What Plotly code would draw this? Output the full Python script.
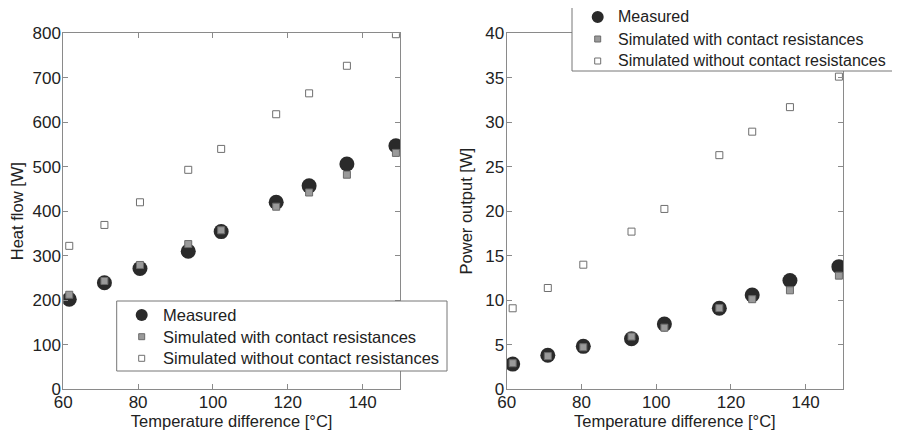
"""Heat flow and power output vs temperature difference."""

import plotly.graph_objects as go

temp_diff = [61.6, 71.0, 80.5, 93.4, 102.2, 116.9, 125.7, 135.8, 148.9]

heat_measured = [202, 239, 271, 310, 354, 420, 457, 506, 547]
heat_sim_contact = [212, 243, 279, 326, 357, 410, 442, 482, 531]
heat_sim_no_contact = [322, 369, 420, 493, 540, 618, 665, 727, 798]

power_measured = [2.8, 3.8, 4.8, 5.66, 7.3, 9.08, 10.57, 12.2, 13.76]
power_sim_contact = [2.9, 3.7, 4.7, 5.9, 6.9, 9.1, 10.1, 11.1, 12.75]
power_sim_no_contact = [9.08, 11.36, 13.98, 17.7, 20.25, 26.3, 28.94, 31.7, 35.13]

series_names = [
    "Measured",
    "Simulated with contact resistances",
    "Simulated without contact resistances",
]

FONT = "Arial, Liberation Sans, sans-serif"
AXIS_GRAY = "#8a8a8a"
W, H = 900, 438

styles = [
    dict(symbol="circle", size=15, color="#2a2a2a", line=dict(width=0)),
    dict(symbol="square", size=7, color="#9a9a9a", line=dict(width=1, color="#6a6a6a")),
    dict(symbol="square", size=7, color="white", line=dict(width=1, color="#6f6f6f")),
]
legend_sizes = [12, 6, 6]

fig = go.Figure()

for name, ys, st in zip(series_names, [heat_measured, heat_sim_contact, heat_sim_no_contact], styles):
    fig.add_trace(go.Scatter(x=temp_diff, y=ys, mode="markers", name=name, marker=st,
                             xaxis="x", yaxis="y"))

for name, ys, st in zip(series_names, [power_measured, power_sim_contact, power_sim_no_contact], styles):
    fig.add_trace(go.Scatter(x=temp_diff, y=ys, mode="markers", name=name, marker=st,
                             xaxis="x2", yaxis="y2"))


def px(x, y):
    # pixel position on the figure -> paper coords
    return x / W, 1 - y / H


def add_legend(box, marker_x, text_x, rows_y, font_size):
    """Hand-drawn legend box so it can sit partly outside the figure like the original."""
    x0, y0 = px(box[0], box[1])
    x1, y1 = px(box[2], box[3])
    fig.add_shape(type="rect", xref="paper", yref="paper", x0=x0, x1=x1, y0=y1, y1=y0,
                  fillcolor="white", line=dict(color="#777", width=1), layer="above")
    for name, st, size, ry in zip(series_names, styles, legend_sizes, rows_y):
        r = size / 2
        cx0, cy0 = px(marker_x - r, ry - r)
        cx1, cy1 = px(marker_x + r, ry + r)
        line = st["line"] if st["line"].get("width") else dict(width=0)
        fig.add_shape(type="circle" if st["symbol"] == "circle" else "rect",
                      xref="paper", yref="paper", x0=cx0, x1=cx1, y0=cy1, y1=cy0,
                      fillcolor=st["color"], line=line, layer="above")
        tx, ty = px(text_x, ry)
        fig.add_annotation(x=tx, y=ty, xref="paper", yref="paper", text=name, showarrow=False,
                           xanchor="left", yanchor="middle",
                           font=dict(size=font_size, color="#222", family=FONT))


# figure pixels (screen minus the 8px page offset)
add_legend(box=(108.7, 293, 439, 363), marker_x=133.7, text_x=153,
           rows_y=(307, 328.7, 350.3), font_size=16.5)
add_legend(box=(564, -30, 910, 63), marker_x=589.7, text_x=608,
           rows_y=(9, 31, 53), font_size=16)

axis_common = dict(
    showgrid=False, zeroline=False, showline=True, linecolor=AXIS_GRAY, linewidth=1,
    mirror="ticks", ticks="inside", ticklen=5, tickcolor=AXIS_GRAY,
    tickfont=dict(size=17, color="#222", family=FONT),
)
title_font = dict(size=16.5, color="#222", family=FONT)

fig.update_layout(
    width=W, height=H,
    showlegend=False,
    margin=dict(l=0, r=0, t=0, b=0, autoexpand=False),
    paper_bgcolor="white", plot_bgcolor="white",
    font=dict(family=FONT, color="#222"),
    xaxis=dict(domain=[0.0614, 0.4356], range=[60, 150], dtick=20, anchor="y",
               ticklabelstandoff=-2,
               title=dict(text="Temperature difference [°C]", font=title_font, standoff=0),
               **axis_common),
    yaxis=dict(domain=[0.1301, 0.9422], range=[0, 800], dtick=100, anchor="x",
               ticklabelstandoff=-2,
               title=dict(text="Heat flow [W]", font=title_font, standoff=8),
               **axis_common),
    xaxis2=dict(domain=[0.5541, 0.9278], range=[60, 150], dtick=20, anchor="y2",
                ticklabelstandoff=-2,
                title=dict(text="Temperature difference [°C]", font=title_font, standoff=0),
                **axis_common),
    yaxis2=dict(domain=[0.1301, 0.9422], range=[0, 40], dtick=5, anchor="x2",
                ticklabelstandoff=-2,
                title=dict(text="Power output [W]", font=title_font, standoff=8),
                **axis_common),
)

fig.write_html("out.html")
